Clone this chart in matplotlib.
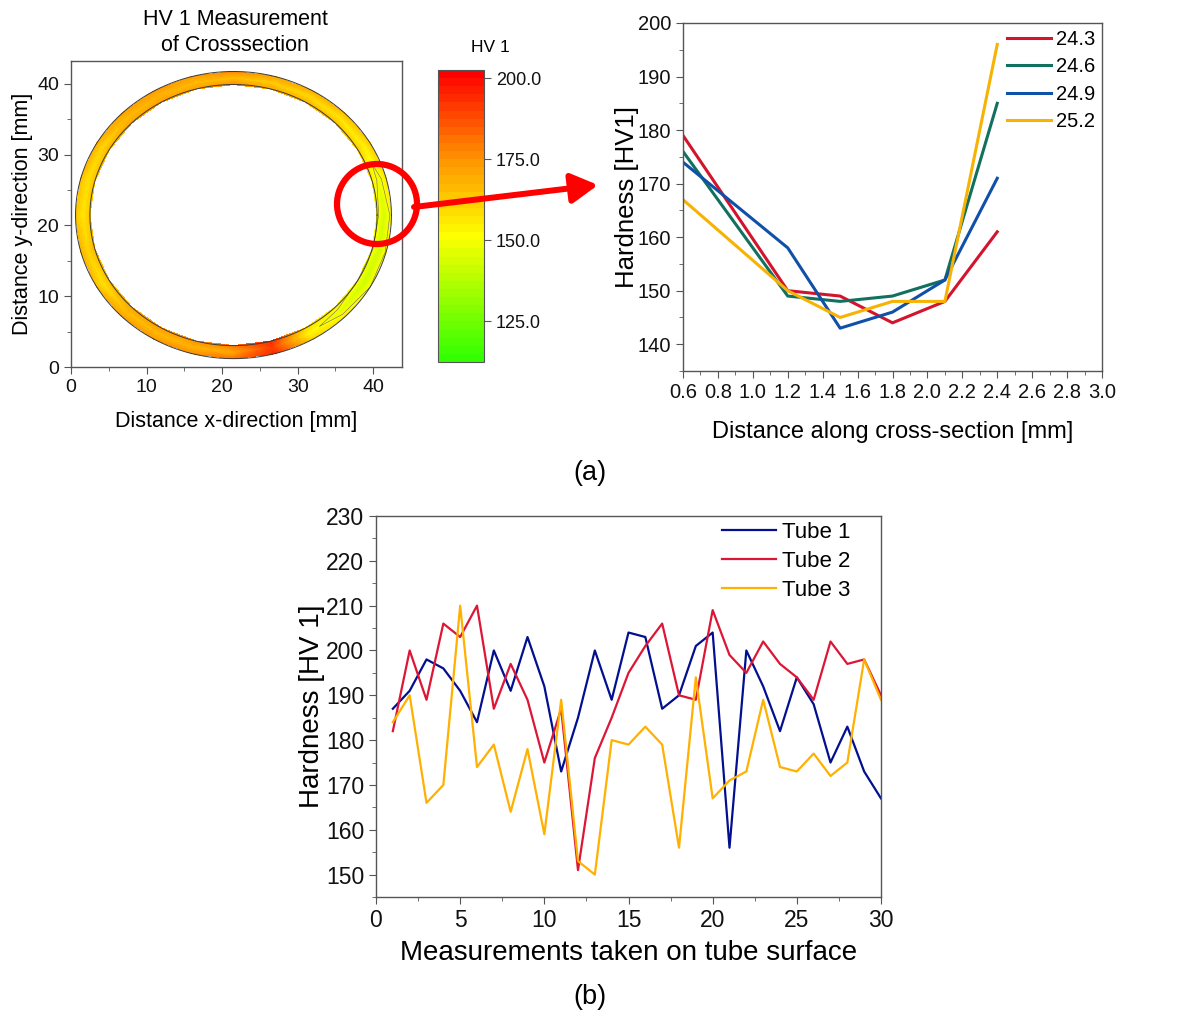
import matplotlib
matplotlib.use("Agg")
import matplotlib.pyplot as plt
import numpy as np
from matplotlib.colors import LinearSegmentedColormap
from matplotlib.ticker import MultipleLocator, FormatStrFormatter
from matplotlib.patches import Ellipse, FancyArrowPatch
import matplotlib.cm as cm
import matplotlib.colors as mcolors

plt.rcParams['font.family'] = ['Liberation Sans', 'DejaVu Sans']

# ---- ring map: hardness around the tube wall (angle from +x, ccw) ----
ring_angle = [0, 15, 30, 45, 60, 75, 90, 105, 120, 135, 150, 165,
              180, 195, 210, 225, 240, 255, 270, 285, 300, 315, 330, 345]
hv_mid = [143, 147, 153, 156, 159, 162, 165, 166, 167, 166, 160, 157,
          156, 160, 157, 165, 166, 167, 170, 190, 152, 146, 141, 142]
hv_edge = [152, 156, 162, 165, 168, 170, 176, 172, 173, 171, 167, 165,
           164, 167, 165, 171, 173, 175, 180, 194, 160, 154, 150, 151]
ring_cx, ring_cy = 21.5, 21.45
ring_r_in, ring_r_out = 19.0, 20.9
ring_y_scale = 0.97

# ---- hardness profile across the wall ----
dist = [0.6, 1.2, 1.5, 1.8, 2.1, 2.4]
profiles = {
    '24.3': [179, 150, 149, 144, 148, 161],
    '24.6': [176, 149, 148, 149, 152, 185],
    '24.9': [174, 158, 143, 146, 152, 171],
    '25.2': [167, 150, 145, 148, 148, 196],
}
profile_colors = ['#d3142c', '#12705f', '#1050a8', '#f7b203']

# ---- surface measurements ----
meas = np.arange(1, 31)
tube1 = [187, 191, 198, 196, 191, 184, 200, 191, 203, 192, 173, 185, 200, 189, 204,
         203, 187, 190, 201, 204, 156, 200, 192, 182, 194, 188, 175, 183, 173, 167]
tube2 = [182, 200, 189, 206, 203, 210, 187, 197, 189, 175, 187, 151, 176, 185, 195,
         201, 206, 190, 189, 209, 199, 195, 202, 197, 194, 189, 202, 197, 198, 190]
tube3 = [184, 190, 166, 170, 210, 174, 179, 164, 178, 159, 189, 153, 150, 180, 179,
         183, 179, 156, 194, 167, 171, 173, 189, 174, 173, 177, 172, 175, 198, 189]
tube_colors = ['#020f8e', '#dd1636', '#ffb000']

W, H = 1189, 1015
fig = plt.figure(figsize=(W / 100, H / 100), dpi=100)


def box(l, t, r, b):
    return [l / W, 1 - b / H, (r - l) / W, (b - t) / H]


def style_axes(ax, size):
    for s in ax.spines.values():
        s.set_color('#555555')
        s.set_linewidth(1.0)
    ax.tick_params(which='both', direction='out', colors='#555555',
                   labelcolor='#111111', labelsize=size)
    ax.tick_params(which='major', length=5)
    ax.tick_params(which='minor', length=3)


# ring map
cmap = LinearSegmentedColormap.from_list(
    'hv', [(0.0, (0.2, 1.0, 0.0)), (37.5 / 87.5, (1.0, 1.0, 0.0)),
           (62.5 / 87.5, (1.0, 0.55, 0.0)), (1.0, (1.0, 0.0, 0.0))])
levels = np.arange(112.5, 202.6, 2.5)
norm = mcolors.BoundaryNorm(levels, cmap.N)

ax1 = fig.add_axes(box(71, 61, 402, 367))
theta = np.deg2rad(np.append(ring_angle, 360))
rr = [ring_r_in, (ring_r_in + ring_r_out) / 2, ring_r_out]
T, R = np.meshgrid(theta, rr)
X = ring_cx + R * np.cos(T)
Y = ring_cy + ring_y_scale * R * np.sin(T)
Z = np.vstack([np.append(hv_edge, hv_edge[0]),
               np.append(hv_mid, hv_mid[0]),
               np.append(hv_edge, hv_edge[0])])
ax1.contourf(X, Y, Z, levels=levels, cmap=cmap, norm=norm)
ax1.contour(X, Y, Z, levels=[150], colors='#666666', linewidths=0.4)
circ = np.linspace(0, 2 * np.pi, 300)
for rad in (ring_r_in, ring_r_out):
    ax1.plot(ring_cx + rad * np.cos(circ), ring_cy + ring_y_scale * rad * np.sin(circ),
             color='#3a3a3a', lw=0.7)
ax1.set_xlim(0, 43.8)
ax1.set_ylim(0, 43.2)
ax1.xaxis.set_major_locator(MultipleLocator(10))
ax1.xaxis.set_minor_locator(MultipleLocator(5))
ax1.yaxis.set_major_locator(MultipleLocator(10))
ax1.yaxis.set_minor_locator(MultipleLocator(5))
style_axes(ax1, 14)
ax1.set_xlabel('Distance x-direction [mm]', fontsize=15.5, labelpad=11)
ax1.set_ylabel('Distance y-direction [mm]', fontsize=15.5, labelpad=3)
fig.text(235 / W, 1 - 9 / H, 'HV 1 Measurement\nof Crosssection', ha='center',
         va='top', fontsize=15.5, linespacing=1.3)

# colorbar
cax = fig.add_axes(box(438, 70, 484, 362))
cb = fig.colorbar(cm.ScalarMappable(norm=norm, cmap=cmap), cax=cax,
                  ticks=[125, 150, 175, 200], format='%.1f')
cb.outline.set_edgecolor('#555555')
cax.tick_params(direction='out', colors='#555555', labelcolor='#111111',
                labelsize=13, length=5)
cax.minorticks_off()
fig.text(490 / W, 1 - 47 / H, 'HV 1', ha='center', va='center', fontsize=12.5)

# profile plot
ax2 = fig.add_axes(box(683, 23, 1102, 371))
for (lab, vals), c in zip(profiles.items(), profile_colors):
    ax2.plot(dist, vals, color=c, lw=2.2, label=lab)
ax2.set_xlim(0.6, 3.0)
ax2.set_ylim(135, 200)
ax2.xaxis.set_major_locator(MultipleLocator(0.2))
ax2.xaxis.set_minor_locator(MultipleLocator(0.1))
ax2.xaxis.set_major_formatter(FormatStrFormatter('%.1f'))
ax2.yaxis.set_major_locator(MultipleLocator(10))
ax2.yaxis.set_minor_locator(MultipleLocator(5))
style_axes(ax2, 14.5)
ax2.set_xlabel('Distance along cross-section [mm]', fontsize=17, labelpad=14)
ax2.set_ylabel('Hardness [HV1]', fontsize=18.5, labelpad=-1)
ax2.legend(loc='upper right', frameon=False, fontsize=14.5, handlelength=2.2,
           handletextpad=0.25, labelspacing=0.42, borderaxespad=0, borderpad=0,
           bbox_to_anchor=(0.985, 0.98))

# red marker circle and arrow
fig.add_artist(Ellipse((377 / W, 1 - 204 / H), 80 / W, 80 / H, fill=False,
                       edgecolor='#ff0000', lw=4.5, transform=fig.transFigure))
fig.add_artist(FancyArrowPatch((414 / W, 1 - 207 / H), (598 / W, 1 - 185 / H),
                               transform=fig.transFigure, color='#ff0000',
                               lw=4.3, arrowstyle='-|>,head_length=0.8,head_width=0.45',
                               mutation_scale=20, shrinkA=0, shrinkB=0))

fig.text(590 / W, 1 - 473 / H, '(a)', ha='center', va='center', fontsize=19.5)

# surface measurements
ax3 = fig.add_axes(box(376, 516, 881, 897))
ax3.plot(meas, tube1, color=tube_colors[0], lw=1.6, label='Tube 1')
ax3.plot(meas, tube2, color=tube_colors[1], lw=1.6, label='Tube 2')
ax3.plot(meas, tube3, color=tube_colors[2], lw=1.6, label='Tube 3')
ax3.set_xlim(0, 30)
ax3.set_ylim(145, 230)
ax3.xaxis.set_major_locator(MultipleLocator(5))
ax3.xaxis.set_minor_locator(MultipleLocator(2.5))
ax3.yaxis.set_major_locator(MultipleLocator(10))
ax3.yaxis.set_minor_locator(MultipleLocator(5))
style_axes(ax3, 16.5)
ax3.set_xlabel('Measurements taken on tube surface', fontsize=20, labelpad=6)
ax3.set_ylabel('Hardness [HV 1]', fontsize=20, labelpad=1)
ax3.legend(loc='upper right', frameon=False, fontsize=16, handlelength=2.4,
           handletextpad=0.3, labelspacing=0.36, borderaxespad=0, borderpad=0,
           bbox_to_anchor=(0.94, 0.985))

fig.text(590 / W, 1 - 997 / H, '(b)', ha='center', va='center', fontsize=19.5)

fig.savefig('out.png', dpi=100)
